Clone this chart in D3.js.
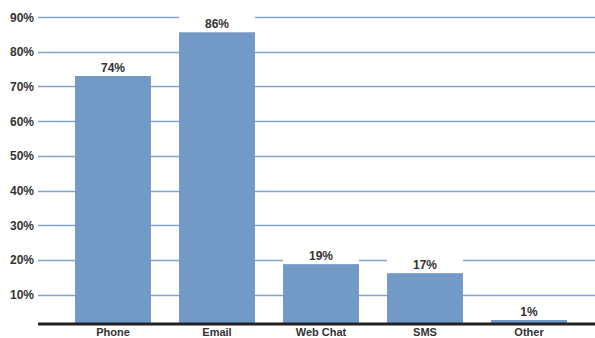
<!DOCTYPE html>
<html>
<head>
<meta charset="utf-8">
<script src="https://cdn.jsdelivr.net/npm/d3@7"></script>
<style>
  html, body { margin: 0; padding: 0; background: #fff; }
  svg { display: block; }
  text { font-family: "Liberation Sans", Arial, sans-serif; font-weight: bold; fill: #333; }
</style>
</head>
<body>
<svg id="chart" width="595" height="338"></svg>
<script>
const categories = ["Phone", "Email", "Web Chat", "SMS", "Other"];
const values = [73.0, 85.6, 18.8, 16.2, 2.7];
const valueLabels = ["74%", "86%", "19%", "17%", "1%"];
const yTicks = [10, 20, 30, 40, 50, 60, 70, 80, 90];

const svg = d3.select("#chart");
const baselineY = 324;

const x = d3.scaleBand().domain(categories).range([61, 581])
  .paddingInner(0.27).paddingOuter(0.135);
const y = d3.scaleLinear().domain([0, 90]).range([329.4, 17]);

// gridlines
svg.append("g").selectAll("line").data(yTicks).join("line")
  .attr("x1", 38).attr("x2", 595)
  .attr("y1", d => Math.round(y(d)) + 0.5).attr("y2", d => Math.round(y(d)) + 0.5)
  .attr("stroke", "#85a5cf").attr("stroke-width", 1.5);

// y tick labels
svg.append("g").selectAll("text").data(yTicks).join("text")
  .attr("x", 34).attr("y", d => y(d) + 4.5)
  .attr("text-anchor", "end").attr("font-size", 12)
  .text(d => d + "%");

// label backgrounds (white boxes hiding gridlines above bars)
svg.append("g").selectAll("rect").data(categories).join("rect")
  .attr("x", d => x(d)).attr("width", x.bandwidth())
  .attr("y", (d, i) => y(values[i]) - 17).attr("height", 17)
  .attr("fill", "#fff");

// bars
svg.append("g").selectAll("rect").data(categories).join("rect")
  .attr("x", d => x(d)).attr("width", x.bandwidth())
  .attr("y", (d, i) => y(values[i]))
  .attr("height", (d, i) => baselineY - y(values[i]))
  .attr("fill", "#7399c6");

// value labels
svg.append("g").selectAll("text").data(categories).join("text")
  .attr("x", d => x(d) + x.bandwidth() / 2)
  .attr("y", (d, i) => y(values[i]) - 4.5)
  .attr("text-anchor", "middle").attr("font-size", 12)
  .text((d, i) => valueLabels[i]);

// baseline
svg.append("line").attr("x1", 38).attr("x2", 595)
  .attr("y1", baselineY).attr("y2", baselineY)
  .attr("stroke", "#222").attr("stroke-width", 3);

// category labels
const xAxis = d3.axisBottom(x).tickSize(0).tickPadding(0);
const gx = svg.append("g").attr("transform", `translate(0,${baselineY})`).call(xAxis);
gx.select(".domain").remove();
gx.selectAll("text").attr("font-size", 11).attr("dy", null).attr("y", 12)
  .style("font-family", '"Liberation Sans", Arial, sans-serif').style("font-weight", "bold").attr("fill", "#333");
</script>
</body>
</html>
